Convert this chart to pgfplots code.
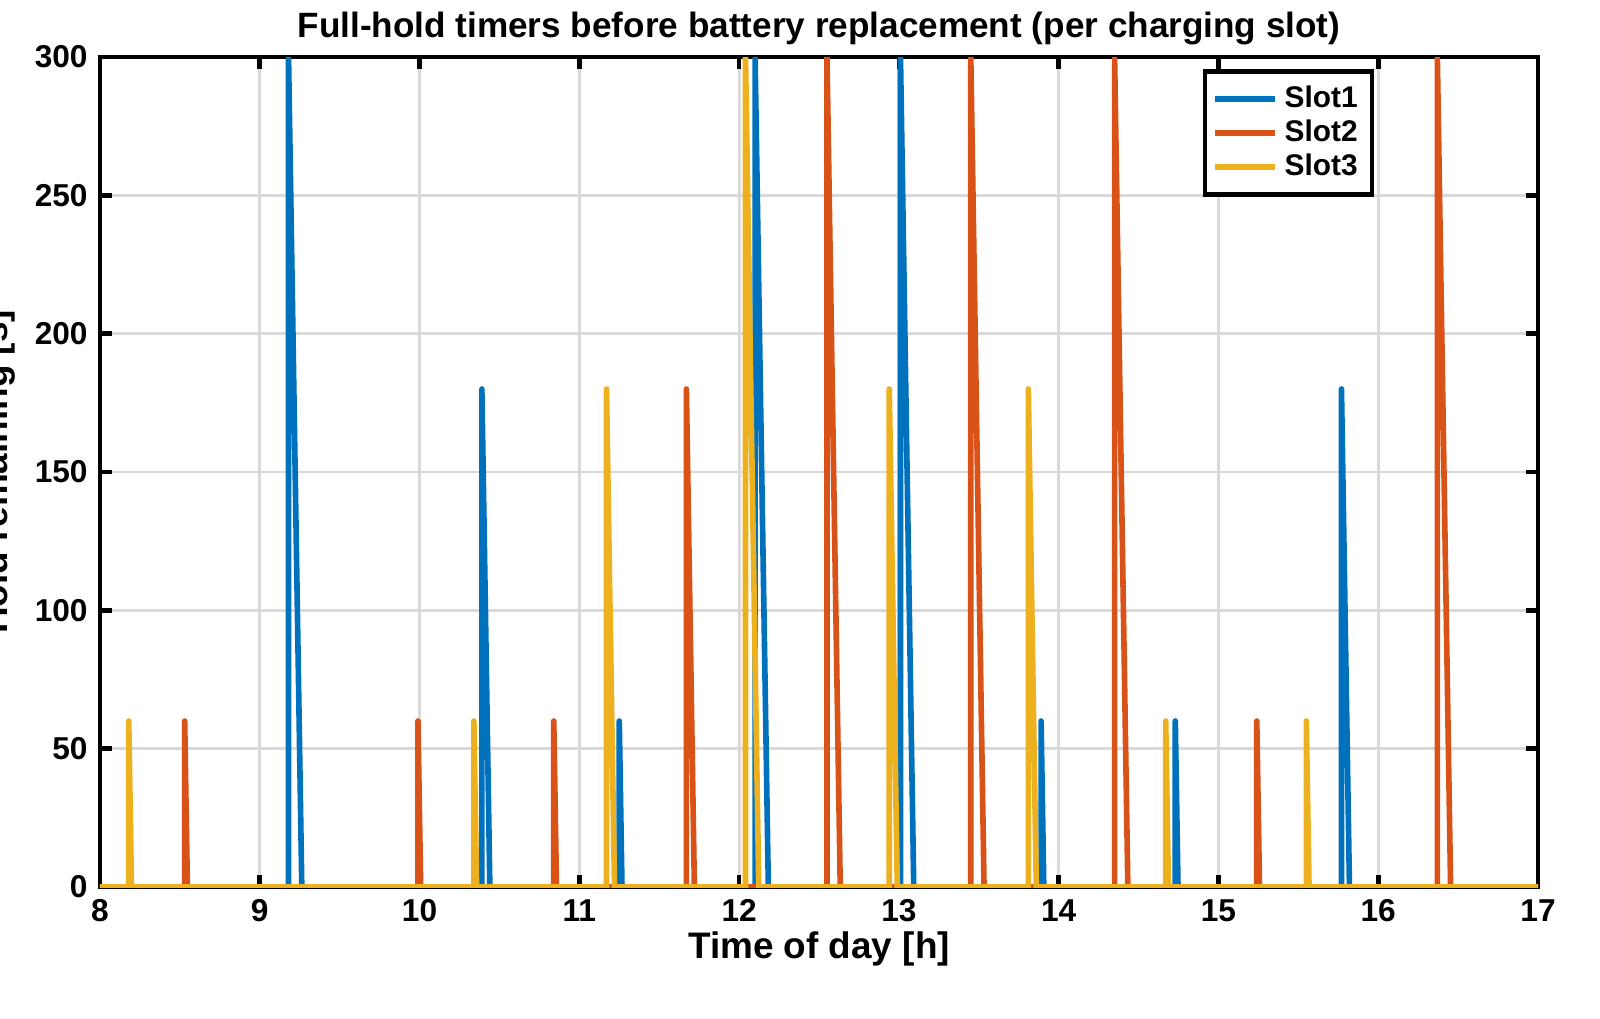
\documentclass[border=0pt]{standalone}
\usepackage{pgfplots}
\pgfplotsset{compat=1.18}
\usepackage{fontspec}
\setmainfont{Liberation Sans}
\definecolor{c1}{RGB}{0,114,189}
\definecolor{c2}{RGB}{217,83,25}
\definecolor{c3}{RGB}{237,177,32}
\begin{document}
\begin{tikzpicture}
\path[use as bounding box] (-1.0cm,-1.31cm) rectangle (15.0cm,8.87cm);
\begin{axis}[scale only axis, width=14.38cm, height=8.30cm,
 xmin=8, xmax=17, ymin=0, ymax=300,
 xtick={8,...,17}, ytick={0,50,...,300},
 grid=major, major grid style={gray!30, line width=0.8pt},
 axis line style={line width=1.3pt}, tick style={line width=1.3pt, black},
 tick align=inside, major tick length=0.12cm,
 xtick pos=both, ytick pos=both,
 ticklabel style={font=\bfseries\fontsize{9}{11}\selectfont},
 /pgf/number format/assume math mode=true,
 title={\bfseries Full-hold timers before battery replacement (per charging slot)},
 title style={font=\fontsize{10}{12}\selectfont, yshift=-6pt},
 xlabel={\bfseries Time of day [h]}, ylabel={\bfseries Hold remaining [s]},
 xlabel style={font=\fontsize{10.5}{12}\selectfont, yshift=4pt},
 ylabel style={font=\fontsize{10.5}{12}\selectfont, at={(-0.05,0.5)}, anchor=south},
 legend style={at={(0.886,0.985)}, anchor=north east, draw=black, line width=1.3pt,
   font=\bfseries\fontsize{8.5}{10}\selectfont, row sep=-2pt, inner sep=2pt},
 legend cell align=left,
 every axis plot/.append style={line width=1.6pt, line join=round},
]
\addplot[c1] coordinates {(8,0)
(9.18,0)(9.18,300)(9.263,0)
(10.39,0)(10.39,180)(10.44,0)
(11.25,0)(11.25,60)(11.267,0)
(12.10,0)(12.10,300)(12.183,0)
(13.01,0)(13.01,300)(13.093,0)
(13.89,0)(13.89,60)(13.907,0)
(14.73,0)(14.73,60)(14.747,0)
(15.77,0)(15.77,180)(15.82,0)
(17,0)};
\addplot[c2] coordinates {(8,0)
(8.53,0)(8.53,60)(8.547,0)
(9.99,0)(9.99,60)(10.007,0)
(10.84,0)(10.84,60)(10.857,0)
(11.67,0)(11.67,180)(11.72,0)
(12.55,0)(12.55,300)(12.633,0)
(13.45,0)(13.45,300)(13.533,0)
(14.35,0)(14.35,300)(14.433,0)
(15.24,0)(15.24,60)(15.257,0)
(16.37,0)(16.37,300)(16.453,0)
(17,0)};
\addplot[c3] coordinates {(8,0)
(8.18,0)(8.18,60)(8.197,0)
(10.34,0)(10.34,60)(10.357,0)
(11.17,0)(11.17,180)(11.22,0)
(12.04,0)(12.04,300)(12.123,0)
(12.94,0)(12.94,180)(12.99,0)
(13.81,0)(13.81,180)(13.86,0)
(14.67,0)(14.67,60)(14.687,0)
(15.55,0)(15.55,60)(15.567,0)
(17,0)};
\legend{Slot1,Slot2,Slot3}
\end{axis}
\end{tikzpicture}
\end{document}
